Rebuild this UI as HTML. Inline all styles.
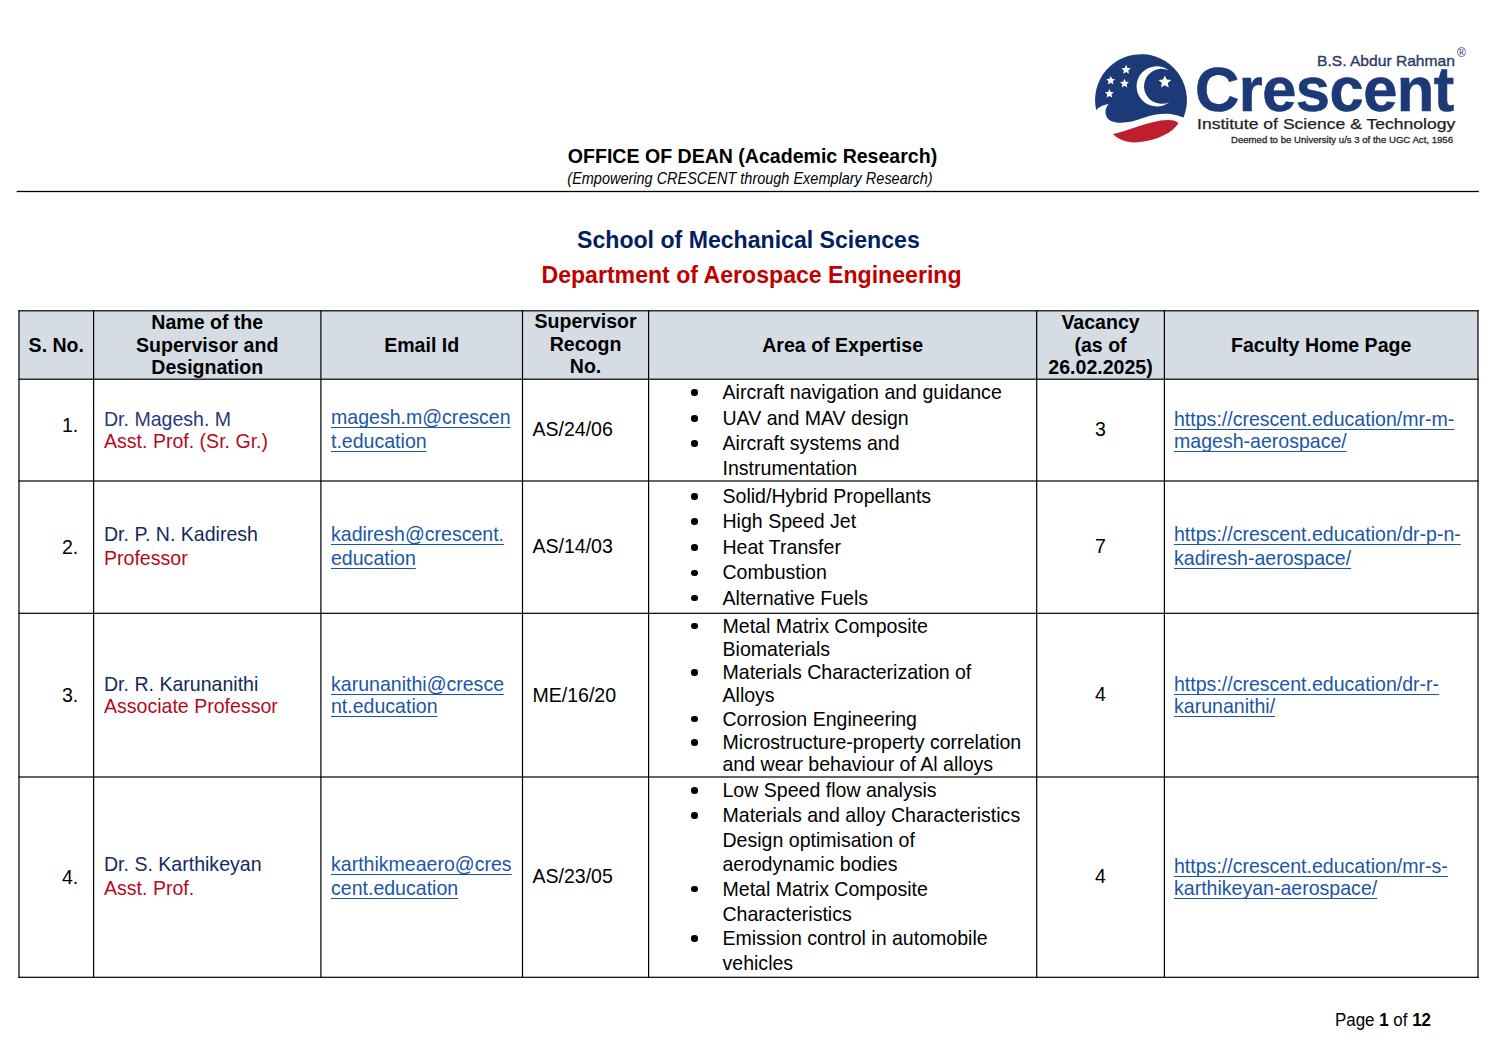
<!DOCTYPE html>
<html><head><meta charset="utf-8"><title>Crescent - Department of Aerospace Engineering</title>
<style>
html,body{margin:0;padding:0;background:#fff}
body{width:1497px;height:1058px;position:relative;overflow:hidden;font-family:"Liberation Sans",sans-serif;color:#000}
.t{position:absolute;white-space:nowrap;line-height:1}
.b{font-weight:bold}
.i{font-style:italic}
.u{color:#1A56A6;text-decoration:underline;text-decoration-thickness:1.4px;text-underline-offset:2.5px;text-decoration-skip-ink:none}
.l{position:absolute}
.bu{position:absolute;width:6.6px;height:6.6px;border-radius:50%;background:#000}
</style></head><body>
<svg style="position:absolute;left:0;top:0" width="1497" height="1058" shape-rendering="geometricPrecision"><rect x="16.70" y="190.85" width="1462.20" height="1.3" fill="#000"/><rect x="19.0" y="310.8" width="1459.00" height="68.40" fill="#D5DCE4"/><rect x="18.40" y="310.20" width="1460.20" height="1.2" fill="#000"/><rect x="18.40" y="378.60" width="1460.20" height="1.2" fill="#000"/><rect x="18.40" y="480.40" width="1460.20" height="1.2" fill="#000"/><rect x="18.40" y="612.70" width="1460.20" height="1.2" fill="#000"/><rect x="18.40" y="776.40" width="1460.20" height="1.2" fill="#000"/><rect x="18.40" y="976.70" width="1460.20" height="1.2" fill="#000"/><rect x="18.40" y="310.20" width="1.2" height="667.70" fill="#000"/><rect x="93.00" y="310.20" width="1.2" height="667.70" fill="#000"/><rect x="320.30" y="310.20" width="1.2" height="667.70" fill="#000"/><rect x="521.90" y="310.20" width="1.2" height="667.70" fill="#000"/><rect x="648.00" y="310.20" width="1.2" height="667.70" fill="#000"/><rect x="1036.10" y="310.20" width="1.2" height="667.70" fill="#000"/><rect x="1163.80" y="310.20" width="1.2" height="667.70" fill="#000"/><rect x="1477.40" y="310.20" width="1.2" height="667.70" fill="#000"/></svg>
<svg style="position:absolute;left:1085px;top:45px" width="110" height="100" viewBox="0 0 1164 1058">
<path fill="#1C3A77" d="M118,688 A486,486 0 1,1 1042,768 C960,725 800,700 620,770 C480,825 330,845 255,790 C205,750 205,680 250,625 C200,630 150,655 118,688 Z"/>
<path fill="#BD1F2E" d="M295,942 C420,925 600,835 800,800 C900,785 960,795 988,828 C930,925 780,1005 560,1030 C440,1040 350,995 295,942 Z"/>
<path fill="#fff" d="M885,268 A212,212 0 1,0 892,602 A185,185 0 1,1 885,268 Z"/>
<path fill="#fff" d="M435.0,210.0 L449.4,242.2 L484.5,245.9 L458.2,269.6 L465.6,304.1 L435.0,286.4 L404.4,304.1 L411.8,269.6 L385.5,245.9 L420.6,242.2 Z M272.0,327.0 L285.8,358.0 L319.6,361.5 L294.3,384.3 L301.4,417.5 L272.0,400.5 L242.6,417.5 L249.7,384.3 L224.4,361.5 L258.2,358.0 Z M418.0,358.0 L431.8,389.0 L465.6,392.5 L440.3,415.3 L447.4,448.5 L418.0,431.5 L388.6,448.5 L395.7,415.3 L370.4,392.5 L404.2,389.0 Z M258.0,465.0 L271.8,496.0 L305.6,499.5 L280.3,522.3 L287.4,555.5 L258.0,538.5 L228.6,555.5 L235.7,522.3 L210.4,499.5 L244.2,496.0 Z M845.0,322.0 L864.3,365.4 L911.6,370.4 L876.3,402.2 L886.1,448.6 L845.0,424.9 L803.9,448.6 L813.7,402.2 L778.4,370.4 L825.7,365.4 Z"/>
</svg>
<div class="t" style="left:1317px;top:53.40px;font-size:15px;color:#2B3966;-webkit-text-stroke:0.35px #2B3966;transform:scaleX(1.04);transform-origin:0 0">B.S. Abdur Rahman</div>
<div class="t" style="left:1457px;top:46.5px;font-size:12px;color:#2B3966">&#174;</div>
<div class="t b" style="left:1195px;top:58.10px;font-size:62.5px;color:#1C3A77;-webkit-text-stroke:0.6px #1C3A77;letter-spacing:-0.5px;transform:scaleX(0.982);transform-origin:0 0">Crescent</div>
<div class="t" style="left:1197px;top:116.91px;font-size:14.4px;color:#231F20;-webkit-text-stroke:0.25px #231F20;transform:scaleX(1.22);transform-origin:0 0">Institute of Science &amp; Technology</div>
<div class="t" style="left:1230.5px;top:136.11px;font-size:9.2px;color:#2a2a2a;-webkit-text-stroke:0.3px #2a2a2a;transform:scaleX(1.045);transform-origin:0 0">Deemed to be University u/s 3 of the UGC Act, 1956</div>

<div class="t b" style="left:402.50px;width:700px;text-align:center;top:147.24px;font-size:19.56px;">OFFICE OF DEAN (Academic Research)</div>
<div class="t i" style="left:449.5px;width:600px;text-align:center;top:170.75px;font-size:16px;transform:scaleX(0.905);transform-origin:300px 0">(Empowering CRESCENT through Exemplary Research)</div>
<div class="t b" style="left:398.40px;width:700px;text-align:center;top:229.24px;font-size:23.1px;color:#002060">School of Mechanical Sciences</div>
<div class="t b" style="left:401.50px;width:700px;text-align:center;top:264.04px;font-size:23.1px;color:#C00000">Department of Aerospace Engineering</div>
<div class="t b" style="left:19.00px;width:74.6px;text-align:center;top:336.24px;font-size:19.56px;">S. No.</div>
<div class="t b" style="left:93.60px;width:227.29999999999998px;text-align:center;top:313.04px;font-size:19.56px;">Name of the</div>
<div class="t b" style="left:93.60px;width:227.29999999999998px;text-align:center;top:335.84px;font-size:19.56px;">Supervisor and</div>
<div class="t b" style="left:93.60px;width:227.29999999999998px;text-align:center;top:357.94px;font-size:19.56px;">Designation</div>
<div class="t b" style="left:320.90px;width:201.60000000000002px;text-align:center;top:335.54px;font-size:19.56px;">Email Id</div>
<div class="t b" style="left:522.50px;width:126.10000000000002px;text-align:center;top:312.24px;font-size:19.56px;">Supervisor</div>
<div class="t b" style="left:522.50px;width:126.10000000000002px;text-align:center;top:335.04px;font-size:19.56px;">Recogn</div>
<div class="t b" style="left:522.50px;width:126.10000000000002px;text-align:center;top:356.94px;font-size:19.56px;">No.</div>
<div class="t b" style="left:648.60px;width:388.1px;text-align:center;top:335.64px;font-size:19.56px;">Area of Expertise</div>
<div class="t b" style="left:1036.70px;width:127.70000000000005px;text-align:center;top:312.94px;font-size:19.56px;">Vacancy</div>
<div class="t b" style="left:1036.70px;width:127.70000000000005px;text-align:center;top:335.64px;font-size:19.56px;">(as of</div>
<div class="t b" style="left:1036.70px;width:127.70000000000005px;text-align:center;top:357.74px;font-size:19.56px;">26.02.2025)</div>
<div class="t b" style="left:1164.40px;width:313.5999999999999px;text-align:center;top:335.64px;font-size:19.56px;">Faculty Home Page</div>
<div class="t " style="left:62.00px;top:415.94px;font-size:19.56px;">1.</div>
<div class="t " style="left:104.00px;top:409.84px;font-size:19.56px;color:#26397A">Dr. Magesh. M</div>
<div class="t " style="left:104.00px;top:431.84px;font-size:19.56px;color:#B5091C">Asst. Prof. (Sr. Gr.)</div>
<div class="t u" style="left:331.00px;top:408.44px;font-size:19.56px;">magesh.m@crescen</div>
<div class="t u" style="left:331.00px;top:431.84px;font-size:19.56px;">t.education</div>
<div class="t " style="left:532.40px;top:419.74px;font-size:19.56px;">AS/24/06</div>
<div class="t " style="left:722.50px;top:383.04px;font-size:19.56px;">Aircraft navigation and guidance</div>
<div class="bu" style="left:691.30px;top:389.20px"></div>
<div class="t " style="left:722.50px;top:408.94px;font-size:19.56px;">UAV and MAV design</div>
<div class="bu" style="left:691.30px;top:415.10px"></div>
<div class="t " style="left:722.50px;top:434.04px;font-size:19.56px;">Aircraft systems and</div>
<div class="bu" style="left:691.30px;top:440.20px"></div>
<div class="t " style="left:722.50px;top:459.14px;font-size:19.56px;">Instrumentation</div>
<div class="t " style="left:1036.70px;width:127.70000000000005px;text-align:center;top:420.24px;font-size:19.56px;">3</div>
<div class="t u" style="left:1174.00px;top:410.24px;font-size:19.56px;">https://crescent.education/mr-m-</div>
<div class="t u" style="left:1174.00px;top:432.14px;font-size:19.56px;">magesh-aerospace/</div>
<div class="t " style="left:62.00px;top:538.04px;font-size:19.56px;">2.</div>
<div class="t " style="left:104.00px;top:525.14px;font-size:19.56px;color:#14295E">Dr. P. N. Kadiresh</div>
<div class="t " style="left:104.00px;top:548.84px;font-size:19.56px;color:#B5091C">Professor</div>
<div class="t u" style="left:331.00px;top:524.94px;font-size:19.56px;">kadiresh@crescent.</div>
<div class="t u" style="left:331.00px;top:549.24px;font-size:19.56px;">education</div>
<div class="t " style="left:532.40px;top:536.74px;font-size:19.56px;">AS/14/03</div>
<div class="t " style="left:722.50px;top:487.04px;font-size:19.56px;">Solid/Hybrid Propellants</div>
<div class="bu" style="left:691.30px;top:493.20px"></div>
<div class="t " style="left:722.50px;top:512.24px;font-size:19.56px;">High Speed Jet</div>
<div class="bu" style="left:691.30px;top:518.40px"></div>
<div class="t " style="left:722.50px;top:537.84px;font-size:19.56px;">Heat Transfer</div>
<div class="bu" style="left:691.30px;top:544.00px"></div>
<div class="t " style="left:722.50px;top:563.34px;font-size:19.56px;">Combustion</div>
<div class="bu" style="left:691.30px;top:569.50px"></div>
<div class="t " style="left:722.50px;top:588.74px;font-size:19.56px;">Alternative Fuels</div>
<div class="bu" style="left:691.30px;top:594.90px"></div>
<div class="t " style="left:1036.70px;width:127.70000000000005px;text-align:center;top:536.64px;font-size:19.56px;">7</div>
<div class="t u" style="left:1174.00px;top:525.44px;font-size:19.56px;">https://crescent.education/dr-p-n-</div>
<div class="t u" style="left:1174.00px;top:548.64px;font-size:19.56px;">kadiresh-aerospace/</div>
<div class="t " style="left:62.00px;top:686.04px;font-size:19.56px;">3.</div>
<div class="t " style="left:104.00px;top:674.84px;font-size:19.56px;color:#14295E">Dr. R. Karunanithi</div>
<div class="t " style="left:104.00px;top:696.84px;font-size:19.56px;color:#B5091C">Associate Professor</div>
<div class="t u" style="left:331.00px;top:674.94px;font-size:19.56px;">karunanithi@cresce</div>
<div class="t u" style="left:331.00px;top:696.94px;font-size:19.56px;">nt.education</div>
<div class="t " style="left:532.40px;top:685.54px;font-size:19.56px;">ME/16/20</div>
<div class="t " style="left:722.50px;top:616.74px;font-size:19.56px;">Metal Matrix Composite</div>
<div class="bu" style="left:691.30px;top:622.90px"></div>
<div class="t " style="left:722.50px;top:639.74px;font-size:19.56px;">Biomaterials</div>
<div class="t " style="left:722.50px;top:663.04px;font-size:19.56px;">Materials Characterization of</div>
<div class="bu" style="left:691.30px;top:669.20px"></div>
<div class="t " style="left:722.50px;top:685.84px;font-size:19.56px;">Alloys</div>
<div class="t " style="left:722.50px;top:709.64px;font-size:19.56px;">Corrosion Engineering</div>
<div class="bu" style="left:691.30px;top:715.80px"></div>
<div class="t " style="left:722.50px;top:733.24px;font-size:19.56px;">Microstructure-property correlation</div>
<div class="bu" style="left:691.30px;top:739.40px"></div>
<div class="t " style="left:722.50px;top:755.44px;font-size:19.56px;">and wear behaviour of Al alloys</div>
<div class="t " style="left:1036.70px;width:127.70000000000005px;text-align:center;top:685.24px;font-size:19.56px;">4</div>
<div class="t u" style="left:1174.00px;top:675.44px;font-size:19.56px;">https://crescent.education/dr-r-</div>
<div class="t u" style="left:1174.00px;top:697.34px;font-size:19.56px;">karunanithi/</div>
<div class="t " style="left:62.00px;top:868.04px;font-size:19.56px;">4.</div>
<div class="t " style="left:104.00px;top:855.14px;font-size:19.56px;color:#14295E">Dr. S. Karthikeyan</div>
<div class="t " style="left:104.00px;top:878.84px;font-size:19.56px;color:#B5091C">Asst. Prof.</div>
<div class="t u" style="left:331.00px;top:854.94px;font-size:19.56px;">karthikmeaero@cres</div>
<div class="t u" style="left:331.00px;top:878.74px;font-size:19.56px;">cent.education</div>
<div class="t " style="left:532.40px;top:866.74px;font-size:19.56px;">AS/23/05</div>
<div class="t " style="left:722.50px;top:781.04px;font-size:19.56px;">Low Speed flow analysis</div>
<div class="bu" style="left:691.30px;top:787.20px"></div>
<div class="t " style="left:722.50px;top:805.84px;font-size:19.56px;">Materials and alloy Characteristics</div>
<div class="bu" style="left:691.30px;top:812.00px"></div>
<div class="t " style="left:722.50px;top:830.64px;font-size:19.56px;">Design optimisation of</div>
<div class="t " style="left:722.50px;top:854.84px;font-size:19.56px;">aerodynamic bodies</div>
<div class="t " style="left:722.50px;top:879.64px;font-size:19.56px;">Metal Matrix Composite</div>
<div class="bu" style="left:691.30px;top:885.80px"></div>
<div class="t " style="left:722.50px;top:904.64px;font-size:19.56px;">Characteristics</div>
<div class="t " style="left:722.50px;top:928.84px;font-size:19.56px;">Emission control in automobile</div>
<div class="bu" style="left:691.30px;top:935.00px"></div>
<div class="t " style="left:722.50px;top:953.64px;font-size:19.56px;">vehicles</div>
<div class="t " style="left:1036.70px;width:127.70000000000005px;text-align:center;top:866.64px;font-size:19.56px;">4</div>
<div class="t u" style="left:1174.00px;top:857.24px;font-size:19.56px;">https://crescent.education/mr-s-</div>
<div class="t u" style="left:1174.00px;top:878.64px;font-size:19.56px;">karthikeyan-aerospace/</div>
<div class="t" style="left:1335px;top:1011.07px;font-size:18.7px;transform:scaleX(0.905);transform-origin:0 0">Page <b>1</b> of <b>12</b></div>
</body></html>
